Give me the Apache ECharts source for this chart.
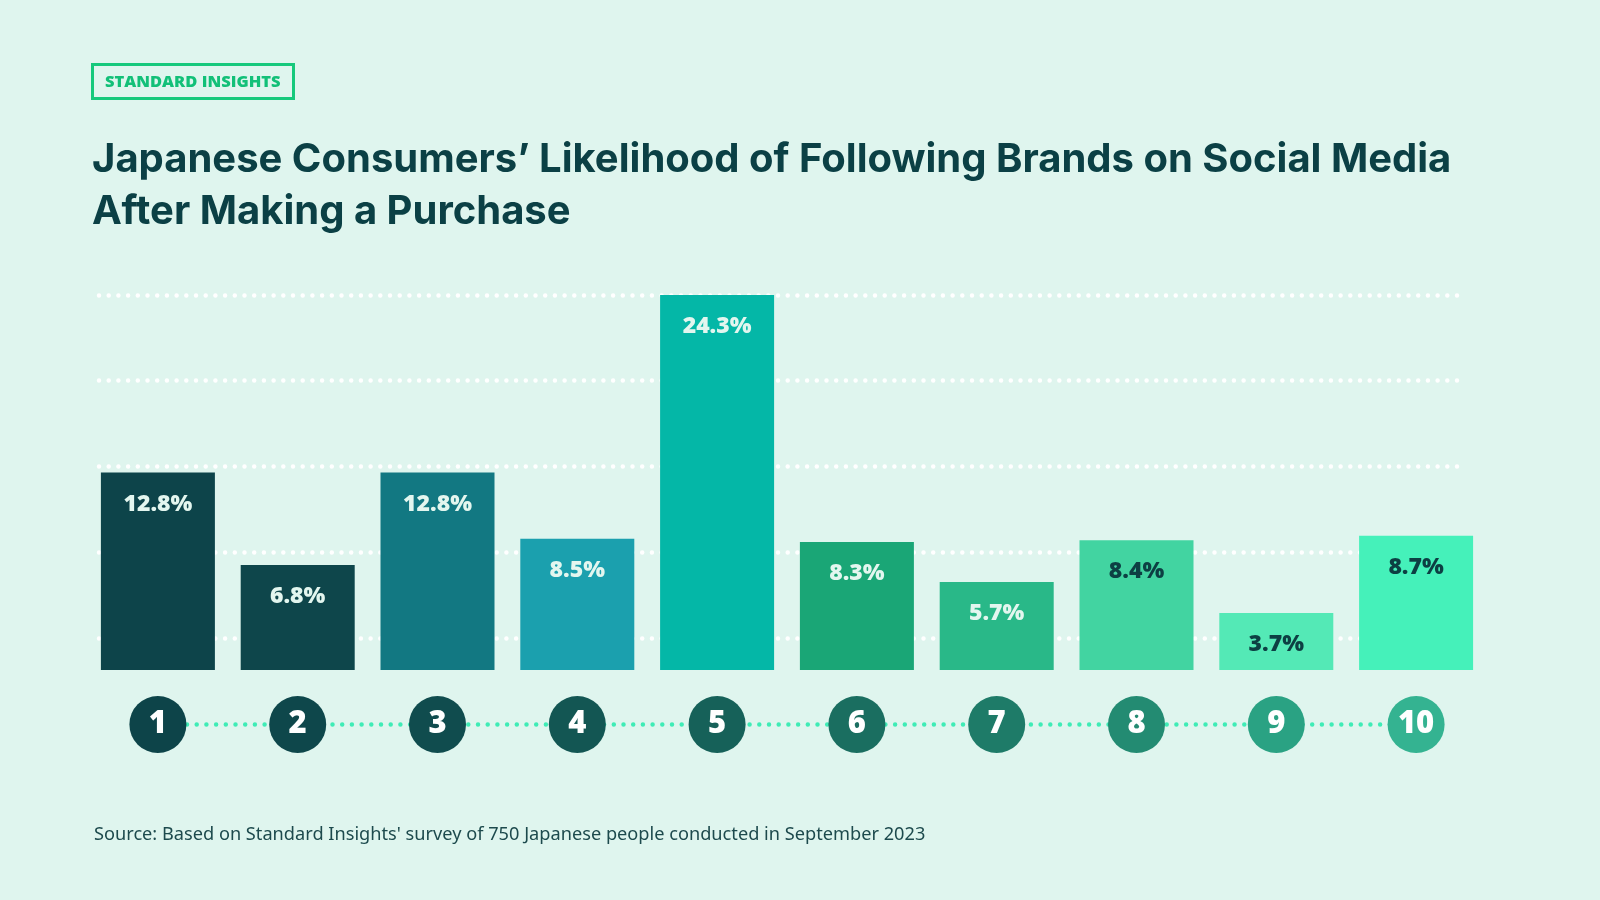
<!DOCTYPE html>
<html>
<head>
<meta charset="utf-8">
<script src="https://cdn.jsdelivr.net/npm/echarts@6/dist/echarts.min.js"></script>
<style>
html,body{margin:0;padding:0;background:#dff5ee;}
#c{width:1600px;height:900px;}
</style>
</head>
<body>
<div id="c"></div>
<script>
const categories = ['1','2','3','4','5','6','7','8','9','10'];
const values = [12.8, 6.8, 12.8, 8.5, 24.3, 8.3, 5.7, 8.4, 3.7, 8.7];
const valueLabels = ['12.8%','6.8%','12.8%','8.5%','24.3%','8.3%','5.7%','8.4%','3.7%','8.7%'];
const barColors = ['#0d444a','#0e464b','#127882','#1ba0ae','#04b7a7','#1aa676','#29b888','#42d4a1','#54e9b6','#45f1ba'];
const labelColors = ['#e3f6ef','#e3f6ef','#e3f6ef','#e3f6ef','#e3f6ef','#e3f6ef','#e3f6ef','#0d3f43','#0d3f43','#0d3f43'];
const circleColors = ['#0d4449','#0e474b','#104c4e','#135653','#166159','#1a6e60','#1e7b68','#238b72','#2aa283','#34b391'];
const gridLevels = [0, 1, 2, 3, 4];
const titleText = 'Japanese Consumers\u2019 Likelihood of Following Brands on Social Media\nAfter Making a Purchase';
const badgeText = 'STANDARD INSIGHTS';
const sourceText = "Source: Based on Standard Insights' survey of 750 Japanese people conducted in September 2023";

const chart = echarts.init(document.getElementById('c'));

chart.setOption({
  backgroundColor: '#dff5ee',
  animation: false,
  title: [
    { text: badgeText, left: 92, top: 64, padding: [8, 13, 7, 13], borderColor: '#16c97c', borderWidth: 3,
      textStyle: { color: '#12c078', fontFamily: '"Open Sans", sans-serif', fontWeight: 800, fontSize: 16.5, lineHeight: 20 } },
    { text: titleText, left: 87, top: 129,
      textStyle: { color: '#0b4045', fontFamily: 'Inter, "Open Sans", sans-serif', fontWeight: 700, fontSize: 40, lineHeight: 52 } },
    { text: sourceText, left: 89, top: 821,
      textStyle: { color: '#1d4a4d', fontFamily: '"Noto Sans", sans-serif', fontWeight: 'normal', fontSize: 18.2 } }
  ],
  grid: [
    { left: 88, right: 114, top: 295, height: 375 },
    { left: 99, right: 136, top: 295, height: 342.8 },
    { left: 88, right: 114, top: 699.5, height: 50 }
  ],
  xAxis: [
    { gridIndex: 0, type: 'category', data: categories, show: false },
    { gridIndex: 1, type: 'value', show: false },
    { gridIndex: 2, type: 'category', data: categories, show: false }
  ],
  yAxis: [
    { gridIndex: 0, type: 'value', min: 0, max: 24.3, show: false },
    { gridIndex: 1, type: 'value', min: gridLevels[0], max: gridLevels[gridLevels.length - 1], interval: 1,
      axisLine: { show: false }, axisTick: { show: false }, axisLabel: { show: false },
      splitLine: { show: true, lineStyle: { color: '#ffffff', width: 4.5, type: [0, 9.7], cap: 'round' } } },
    { gridIndex: 2, type: 'value', min: -1, max: 1, show: false }
  ],
  series: [
    {
      type: 'bar', xAxisIndex: 0, yAxisIndex: 0, barWidth: 114, z: 5,
      data: values.map((v, i) => ({
        value: v,
        itemStyle: { color: barColors[i] },
        label: { show: true, position: 'insideTop', distance: 20, formatter: valueLabels[i],
          color: labelColors[i], fontFamily: '"Open Sans", sans-serif', fontWeight: 800, fontSize: 23 }
      }))
    },
    {
      type: 'line', xAxisIndex: 2, yAxisIndex: 2, z: 5,
      symbol: 'circle', symbolSize: 57,
      lineStyle: { color: '#3fecb6', width: 4.5, type: [0, 9.7], cap: 'round' },
      data: categories.map((c, i) => ({
        value: 0,
        itemStyle: { color: circleColors[i] },
        label: { show: true, position: 'inside', formatter: c, color: '#ffffff',
          fontFamily: '"Open Sans", sans-serif', fontWeight: 800, fontSize: 31 }
      }))
    }
  ]
});
</script>
</body>
</html>
